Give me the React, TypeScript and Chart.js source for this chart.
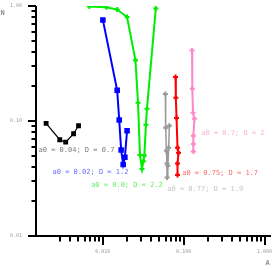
import React, { useEffect, useRef } from "react";
import { Chart, registerables } from "chart.js";

Chart.register(...registerables);

// ---- data ----
const blackX = [0.002, 0.00295, 0.00349, 0.00437, 0.00503];
const blackY = [0.0955, 0.0687, 0.0654, 0.0775, 0.0909];

const blueX = [0.01005, 0.0151, 0.016, 0.0169, 0.0179, 0.0188, 0.02];
const blueY = [0.757, 0.185, 0.102, 0.056, 0.0418, 0.0483, 0.0822];

const greenX = [0.00684, 0.0111, 0.0151, 0.02, 0.0254, 0.0273, 0.0289, 0.0306, 0.0318, 0.0327, 0.0342, 0.0352, 0.0453];
const greenY = [0.988, 0.975, 0.931, 0.803, 0.337, 0.144, 0.0507, 0.0383, 0.0446, 0.05, 0.0927, 0.1275, 0.95];

const grayX = [0.0594, 0.06, 0.0612, 0.0621, 0.0624, 0.0638, 0.0653, 0.0666];
const grayY = [0.172, 0.0873, 0.0552, 0.0426, 0.0322, 0.0409, 0.0586, 0.0908];

const redX = [0.0794, 0.0801, 0.0817, 0.084, 0.0864, 0.084, 0.084];
const redY = [0.241, 0.159, 0.106, 0.0586, 0.053, 0.0426, 0.034];

const pinkX = [0.127, 0.128, 0.1305, 0.136, 0.1318, 0.1318, 0.1318];
const pinkY = [0.411, 0.191, 0.118, 0.1045, 0.0744, 0.063, 0.0544];

const labelTexts = [
  "a0 = 0.04; D = 0.7",
  "a0 = 0.02; D = 1.2",
  "a0 = 0.0; D = 2.2",
  "a0 = 0.75; D = 1.7",
  "a0 = 0.77; D = 1.9",
  "a0 = 0.7; D = 2",
];
const labelX = [0.00161, 0.0024, 0.0072, 0.0959, 0.0628, 0.165];
const labelY = [0.0559, 0.036, 0.0278, 0.0353, 0.0255, 0.0784];
const labelColors = ["#7a7a7a", "#6a6aff", "#66ee66", "#ff6a6a", "#c4c4c4", "#ffb0d8"];

const xTickLabels = ["0.010", "0.100", "1.000"];
const xTickValues = [0.01, 0.1, 1];
const yTickLabels = ["1.00", "0.10", "0.01"];
const yTickValues = [1, 0.1, 0.01];

const pts = (xs: number[], ys: number[]) => xs.map((x, i) => ({ x, y: ys[i] }));

const isNice = (v: number) => {
  const e = Math.floor(Math.log10(v) + 1e-9);
  const s = v / Math.pow(10, e);
  return Math.abs(s - Math.round(s)) < 1e-6;
};
const isDecade = (v: number) => Math.abs(Math.log10(v) - Math.round(Math.log10(v))) < 1e-6;

const axesPlugin = {
  id: "oldAxes",
  afterDraw(chart: any) {
    const ctx = chart.ctx;
    const xs = chart.scales.x;
    const ys = chart.scales.y;
    const { left, right, top, bottom } = chart.chartArea;
    ctx.save();
    ctx.strokeStyle = "#000";
    ctx.lineWidth = 2;
    ctx.beginPath();
    ctx.moveTo(left, top);
    ctx.lineTo(left, bottom);
    ctx.moveTo(left, bottom);
    ctx.lineTo(right, bottom);
    ctx.stroke();

    const xVals = (xs.ticks || []).map((t: any) => t.value).filter((v: number) => v > 0 && isNice(v));
    const yVals = (ys.ticks || []).map((t: any) => t.value).filter((v: number) => v > 0 && isNice(v));
    ctx.beginPath();
    xVals.forEach((v: number) => {
      const px = Math.round(xs.getPixelForValue(v));
      if (px < left + 1 || px > right) return;
      const len = isDecade(v) ? 9 : 5.5;
      ctx.moveTo(px, bottom);
      ctx.lineTo(px, bottom + len);
    });
    yVals.forEach((v: number) => {
      const py = Math.round(ys.getPixelForValue(v));
      if (py < top - 1 || py > bottom + 1) return;
      const len = isDecade(v) ? 8 : 4.5;
      ctx.moveTo(left, py);
      ctx.lineTo(left - len, py);
    });
    ctx.stroke();

    ctx.fillStyle = "#9a9a9a";
    ctx.font = "5px 'DejaVu Sans Mono'";
    ctx.textBaseline = "middle";
    ctx.textAlign = "center";
    xTickValues.forEach((v, i) => {
      ctx.fillText(xTickLabels[i], xs.getPixelForValue(v), 252);
    });
    ctx.textAlign = "right";
    yTickValues.forEach((v, i) => {
      const py = ys.getPixelForValue(v);
      ctx.fillText(yTickLabels[i], 22, Math.max(py, 3.5));
    });

    ctx.fillStyle = "#8a8a8a";
    ctx.font = "bold 7px 'DejaVu Sans Mono'";
    ctx.textAlign = "left";
    ctx.fillText("N", 0.5, 13.5);
    ctx.fillText("A", 265.5, 263.5);

    ctx.font = "7px 'DejaVu Sans Mono'";
    ctx.textAlign = "left";
    labelTexts.forEach((t, i) => {
      ctx.fillStyle = labelColors[i];
      ctx.fillText(t, xs.getPixelForValue(labelX[i]), ys.getPixelForValue(labelY[i]));
    });
    ctx.restore();
  },
};

export default function App() {
  const ref = useRef<HTMLCanvasElement | null>(null);
  useEffect(() => {
    if (!ref.current) return;
    const mk = (data: any, color: string, style: string, width: number, radius: number) => ({
      data,
      showLine: true,
      borderColor: color,
      backgroundColor: color,
      borderWidth: width,
      pointStyle: style,
      pointRadius: radius,
      pointBorderWidth: 2,
      pointBorderColor: color,
      pointBackgroundColor: color,
      tension: 0,
    });
    const chart = new Chart(ref.current, {
      type: "scatter",
      data: {
        datasets: [
          mk(pts(blackX, blackY), "#000000", "rect", 1.2, 2),
          mk(pts(blueX, blueY), "#0000ff", "rect", 2, 2.5),
          mk(pts(greenX, greenY), "#00ee00", "cross", 2, 2.5),
          mk(pts(grayX, grayY), "#999999", "cross", 1.5, 2.5),
          mk(pts(redX, redY), "#ff0000", "cross", 2, 2.5),
          mk(pts(pinkX, pinkY), "#ff88c8", "cross", 2, 2.5),
        ],
      },
      options: {
        responsive: false,
        animation: false,
        devicePixelRatio: 1,
        layout: { padding: { left: 36, right: 3.5, top: 5, bottom: 34 } },
        plugins: { legend: { display: false }, tooltip: { enabled: false } },
        scales: {
          x: {
            type: "logarithmic",
            min: 0.0015,
            max: 1.2,
            ticks: { display: false },
            grid: { display: false, drawTicks: false },
            border: { display: false },
          },
          y: {
            type: "logarithmic",
            min: 0.01,
            max: 1,
            ticks: { display: false },
            grid: { display: false, drawTicks: false },
            border: { display: false },
          },
        },
      },
      plugins: [axesPlugin],
    });
    return () => chart.destroy();
  }, []);
  return (
    <div style={{ position: "fixed", left: 0, top: 0, width: 277, height: 270, background: "#fff" }}>
      <canvas ref={ref} width={277} height={270} style={{ width: 277, height: 270, display: "block" }} />
    </div>
  );
}
